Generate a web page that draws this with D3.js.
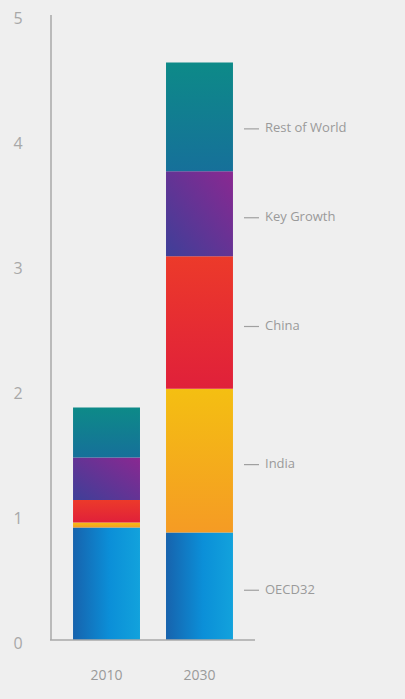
<!DOCTYPE html>
<html><head><meta charset="utf-8">
<script src="https://cdn.jsdelivr.net/npm/d3@7"></script>
<style>
html,body{margin:0;padding:0;background:#efefef;}
svg{display:block;}
text{font-family:"Open Sans",Lato,sans-serif;}
</style></head>
<body>
<script>
const years = ["2010", "2030"];
const seriesNames = ["OECD32", "India", "China", "Key Growth", "Rest of World"];
const oecd32 = [0.90, 0.86];
const india = [0.04, 1.15];
const china = [0.18, 1.06];
const keyGrowth = [0.34, 0.68];
const restOfWorld = [0.40, 0.87];
const yTicks = [0, 1, 2, 3, 4, 5];

const W = 405, H = 699;
const svg = d3.select("body").append("svg").attr("width", W).attr("height", H);

const rows = years.map((y, i) => ({
  year: y,
  "OECD32": oecd32[i], "India": india[i], "China": china[i],
  "Key Growth": keyGrowth[i], "Rest of World": restOfWorld[i]
}));
const stack = d3.stack().keys(seriesNames)(rows);

const x = d3.scaleBand().domain(years).range([51, 255]).paddingInner(0.28).paddingOuter(0.237);
const y = d3.scaleLinear().domain([0, 5]).range([640, 15]);

const defs = svg.append("defs");
const grads = {
  "OECD32": {x2: "100%", y2: "0%", stops: [["0%", "#1763ad"], ["55%", "#0b8fd8"], ["100%", "#12a2dc"]]},
  "India": {x2: "0%", y2: "100%", stops: [["0%", "#f4bf12"], ["100%", "#f59b24"]]},
  "China": {x2: "0%", y2: "100%", stops: [["0%", "#ec3a2a"], ["100%", "#e0203a"]]},
  "Key Growth": {x2: "100%", y2: "-60%", stops: [["0%", "#3e3f98"], ["100%", "#8a2891"]]},
  "Rest of World": {x2: "0%", y2: "100%", stops: [["0%", "#0d8a88"], ["100%", "#16709a"]]}
};
seriesNames.forEach((k, i) => {
  const g = grads[k];
  const lg = defs.append("linearGradient").attr("id", "g" + i)
    .attr("x1", "0%").attr("y1", g.y2 === "-60%" ? "100%" : "0%")
    .attr("x2", g.x2).attr("y2", g.y2 === "-60%" ? "0%" : g.y2);
  g.stops.forEach(s => lg.append("stop").attr("offset", s[0]).attr("stop-color", s[1]));
});

// bars
svg.append("g").selectAll("g").data(stack).join("g")
  .attr("fill", (d, i) => "url(#g" + i + ")")
  .selectAll("rect").data(d => d).join("rect")
  .attr("x", d => x(d.data.year))
  .attr("width", x.bandwidth())
  .attr("y", d => y(d[1]))
  .attr("height", d => y(d[0]) - y(d[1]));

// axes
svg.append("line").attr("x1", 51).attr("x2", 51).attr("y1", 15).attr("y2", 640)
  .attr("stroke", "#a8a8a8").attr("stroke-width", 1.5);
svg.append("line").attr("x1", 50).attr("x2", 255).attr("y1", 640).attr("y2", 640)
  .attr("stroke", "#a8a8a8").attr("stroke-width", 1.5);

svg.append("g").selectAll("text").data(yTicks).join("text")
  .attr("x", 18).attr("y", d => y(d) + 5)
  .attr("text-anchor", "middle").attr("dominant-baseline", "middle")
  .attr("font-size", 16).attr("fill", "#a8a8a8")
  .text(d => d);

svg.append("g").selectAll("text").data(years).join("text")
  .attr("x", d => x(d) + x.bandwidth() / 2).attr("y", 676)
  .attr("text-anchor", "middle").attr("dominant-baseline", "middle")
  .attr("font-size", 14).attr("fill", "#9a9a9a")
  .text(d => d);

// series labels beside 2030 bar
const last = years.length - 1;
const lab = svg.append("g").selectAll("g").data(stack).join("g")
  .attr("transform", (d, i) => {
    const mid = (y(d[last][0]) + y(d[last][1])) / 2 + (i === seriesNames.length - 1 ? 12 : 4);
    return `translate(0,${mid})`;
  });
lab.append("line").attr("x1", 244).attr("x2", 259).attr("stroke", "#a0a0a0").attr("stroke-width", 1.2);
lab.append("text").attr("x", 265).attr("dominant-baseline", "middle")
  .attr("font-size", 13).attr("fill", "#9a9a9a")
  .text(d => d.key);
</script>
</body></html>
